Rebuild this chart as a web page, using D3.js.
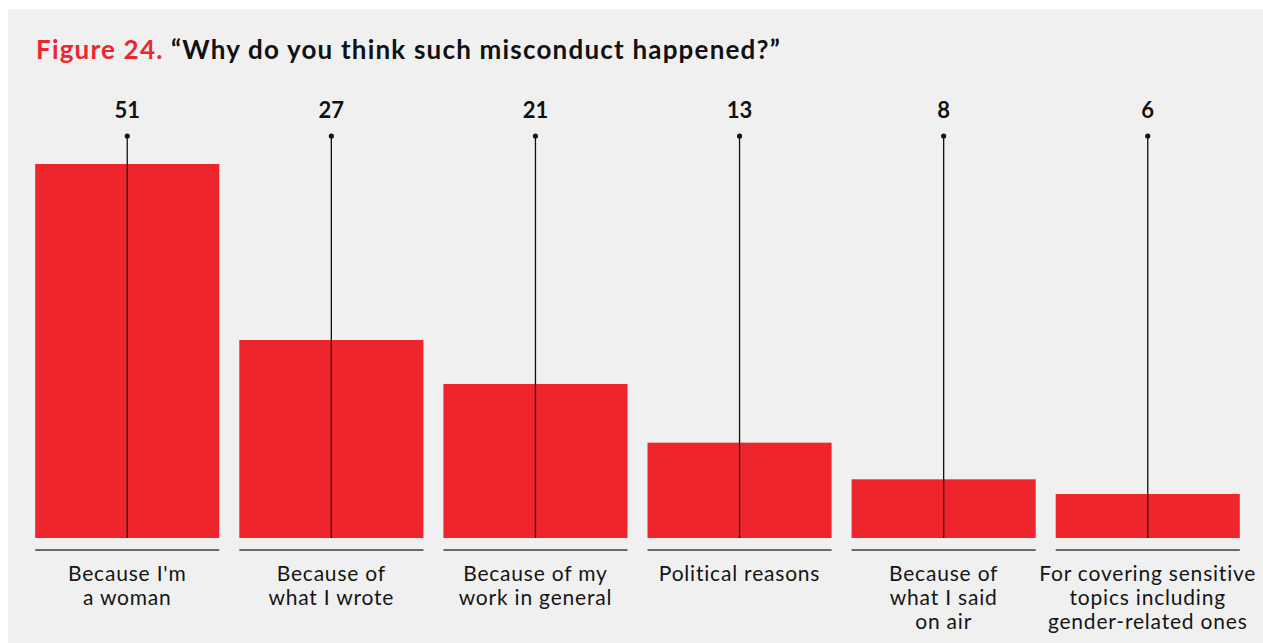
<!DOCTYPE html>
<html>
<head>
<meta charset="utf-8">
<script src="https://cdn.jsdelivr.net/npm/d3@7"></script>
<style>
  html, body { margin: 0; padding: 0; background: #ffffff; }
  svg { display: block; }
</style>
</head>
<body>
<svg id="chart" width="1263" height="643"></svg>
<script>
// Survey responses: reasons given for the misconduct
const categories = [
  ["Because I'm", "a woman"],
  ["Because of", "what I wrote"],
  ["Because of my", "work in general"],
  ["Political reasons"],
  ["Because of", "what I said", "on air"],
  ["For covering sensitive", "topics including", "gender-related ones"]
];
const values = [51, 27, 21, 13, 8, 6];

const W = 1263, H = 643;
const red = "#ee252b";
const font = "Lato, 'Noto Sans', sans-serif";
const svg = d3.select("#chart");

// panel background
svg.append("rect").attr("x", 8).attr("y", 9).attr("width", W - 8).attr("height", H - 9)
  .attr("fill", "#f0f0f0");

// title
const title = svg.append("text").attr("x", 36).attr("y", 59)
  .attr("font-family", font).attr("font-weight", 700)
  .attr("font-size", 26).attr("letter-spacing", 1.2);
title.append("tspan").attr("fill", red).text("Figure 24.");
title.append("tspan").attr("fill", "#111").text(" \u201CWhy do you think such misconduct happened?\u201D");

// scales
const x = d3.scaleBand().domain(d3.range(values.length)).range([25, 1250]).paddingInner(0.098).paddingOuter(0.05);
const y = d3.scaleLinear().domain([0, 51]).range([538, 164]);

const g = svg.append("g");
const cols = g.selectAll("g.col").data(values).join("g").attr("class", "col");

// bars
cols.append("rect")
  .attr("x", (d, i) => x(i))
  .attr("y", d => y(d))
  .attr("width", x.bandwidth())
  .attr("height", d => y(0) - y(d))
  .attr("fill", red);

// leader lines from value marker to baseline
cols.append("line")
  .attr("x1", (d, i) => x(i) + x.bandwidth() / 2)
  .attr("x2", (d, i) => x(i) + x.bandwidth() / 2)
  .attr("y1", 136).attr("y2", y(0))
  .attr("stroke", "#111").attr("stroke-width", 1.3);

cols.append("circle")
  .attr("cx", (d, i) => x(i) + x.bandwidth() / 2)
  .attr("cy", 136).attr("r", 2.6).attr("fill", "#111");

// value labels
cols.append("text")
  .attr("x", (d, i) => x(i) + x.bandwidth() / 2)
  .attr("y", 118)
  .attr("text-anchor", "middle")
  .attr("font-family", font).attr("font-weight", 700)
  .attr("font-size", 22).attr("fill", "#111")
  .text(d => d);

// category baselines
cols.append("line")
  .attr("x1", (d, i) => x(i)).attr("x2", (d, i) => x(i) + x.bandwidth())
  .attr("y1", 550).attr("y2", 550)
  .attr("stroke", "#6a6a6a").attr("stroke-width", 2);

// category labels
cols.append("text")
  .attr("text-anchor", "middle")
  .attr("font-family", font).attr("font-weight", 400)
  .attr("font-size", 21).attr("letter-spacing", 0.8).attr("fill", "#151515")
  .each(function (d, i) {
    const t = d3.select(this);
    categories[i].forEach((line, k) => {
      t.append("tspan")
        .attr("x", x(i) + x.bandwidth() / 2)
        .attr("y", 581 + k * 24)
        .text(line);
    });
  });
</script>
</body>
</html>
